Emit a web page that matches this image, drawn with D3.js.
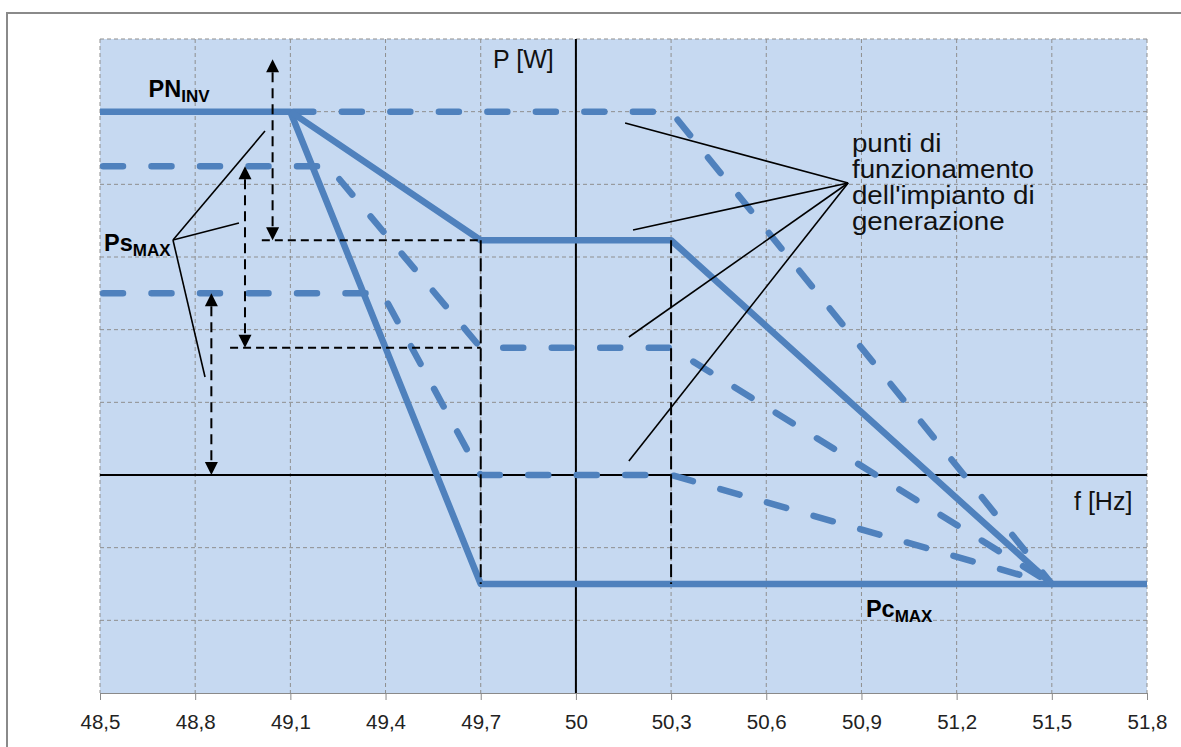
<!DOCTYPE html>
<html><head><meta charset="utf-8">
<script src="https://cdn.jsdelivr.net/npm/d3@7"></script>
<style>body{margin:0;background:#fff;} svg{display:block;}</style>
</head><body>
<svg id="chart" width="1181" height="747"></svg>
<script>
// ---- data ----
const xTicks = [48.5,48.8,49.1,49.4,49.7,50,50.3,50.6,50.9,51.2,51.5,51.8];
const yGridValues = [-3,-2,-1,0,1,2,3,4,5,6];
const solidSteep   = [[48.5,5],[49.1,5],[49.7,-1.5],[51.8,-1.5]];
const solidPlateau = [[49.1,5],[49.7,3.23],[50.3,3.23],[51.5,-1.5]];
const dashedTop    = [[49.1,5],[50.3,5],[51.5,-1.5]];
const dashedMid    = [[48.5,4.25],[49.22,4.25],[49.7,1.75],[50.3,1.75],[51.5,-1.5]];
const dashedLow    = [[48.5,2.5],[49.39,2.5],[49.7,0],[50.3,0],[51.5,-1.5]];
const guideVerticals   = [[49.7,3.23,-1.5],[50.3,3.23,-1.5]];
const guideHorizontals = [[49.01,49.7,3.23],[48.91,49.7,1.75]];
const arrows = [[49.044,5.72,3.23],[48.957,4.25,1.75],[48.851,2.5,0]];
const psLeaderOrigin = [48.73,3.234];
const psLeaderEnds = [[49.02,4.734],[48.938,3.468],[48.831,1.349]];
const opLeaderOrigin = [50.858,4.018];
const opLeaderEnds = [[50.155,4.844],[50.18,3.371],[50.167,1.899],[50.167,0.193]];
const opLabelLines = ["punti di","funzionamento","dell'impianto di","generazione"];
const opLabelPos = [50.87,4.45];
const pnLabelPos = [48.653,5.2];
const psLabelPos = [48.513,3.08];
const pcLabelPos = [50.914,-1.955];
const yAxisTitlePos = [49.739,5.6];
const xAxisTitlePos = [51.57,-0.48];

// ---- layout ----
const svg = d3.select("#chart");
const x = d3.scaleLinear().domain([48.5,51.8]).range([100,1147]);
const y = d3.scaleLinear().domain([-3,6]).range([693,39]);
const blue = "#4F81BD", grid = "#8f8f8f";

svg.append("rect").attr("x",7).attr("y",13).attr("width",1200).attr("height",800)
  .attr("fill","#fff").attr("stroke","#8a8a8a").attr("stroke-width",2);

svg.append("rect").attr("x",x(48.5)).attr("y",y(6)).attr("width",x(51.8)-x(48.5)).attr("height",y(-3)-y(6))
  .attr("fill","#C6D9F1");

svg.append("clipPath").attr("id","plotclip").append("rect")
  .attr("x",x(48.5)).attr("y",y(6)).attr("width",x(51.8)-x(48.5)).attr("height",y(-3)-y(6));

// gridlines
const g = svg.append("g");
g.selectAll(".vg").data(xTicks).join("line")
  .attr("x1",d=>x(d)).attr("x2",d=>x(d)).attr("y1",y(6)).attr("y2",y(-3))
  .attr("stroke",grid).attr("stroke-width",1).attr("stroke-dasharray","4 3");
g.selectAll(".hg").data(yGridValues.filter(v=>v!==-3 && v!==0)).join("line")
  .attr("x1",x(48.5)).attr("x2",x(51.8)).attr("y1",d=>y(d)).attr("y2",d=>y(d))
  .attr("stroke",grid).attr("stroke-width",1).attr("stroke-dasharray","4 3");

// bottom axis with tick labels
const xAxis = d3.axisBottom(x).tickValues(xTicks).tickSize(7).tickSizeOuter(0).tickPadding(14)
  .tickFormat(d => String(d).replace(".", ","));
const ax = svg.append("g").attr("transform",`translate(0,${y(-3)})`).call(xAxis);
ax.select(".domain").attr("stroke","#8a8a8a").attr("stroke-width",1.2);
ax.selectAll(".tick line").attr("stroke","#8a8a8a");
ax.selectAll(".tick text").attr("font-family","'Liberation Sans', Arial, sans-serif")
  .attr("font-size",20.5).attr("fill","#222");

// main axes (black)
svg.append("line").attr("x1",x(48.5)).attr("x2",x(51.8)).attr("y1",y(0)).attr("y2",y(0))
  .attr("stroke","#000").attr("stroke-width",2);
svg.append("line").attr("x1",x(50)).attr("x2",x(50)).attr("y1",y(6)).attr("y2",y(-3))
  .attr("stroke","#000").attr("stroke-width",2);

// blue lines
const line = d3.line().x(d=>x(d[0])).y(d=>y(d[1]));
const lg = svg.append("g").attr("clip-path","url(#plotclip)");
[dashedTop, dashedMid, dashedLow].forEach(s=>{
  lg.append("path").attr("d",line(s)).attr("fill","none").attr("stroke",blue)
    .attr("stroke-width",6.5).attr("stroke-linecap","round").attr("stroke-linejoin","round")
    .attr("stroke-dasharray","20 28.5").attr("stroke-dashoffset",-3);
});
[solidSteep, solidPlateau].forEach(s=>{
  lg.append("path").attr("d",line(s)).attr("fill","none").attr("stroke",blue)
    .attr("stroke-width",6.5).attr("stroke-linecap","butt").attr("stroke-linejoin","round");
});

// black dashed guides
const bg = svg.append("g");
guideVerticals.forEach(([fx,v1,v2])=>{
  bg.append("line").attr("x1",x(fx)).attr("x2",x(fx)).attr("y1",y(v1)).attr("y2",y(v2))
    .attr("stroke","#000").attr("stroke-width",2).attr("stroke-dasharray","13 5");
});
guideHorizontals.forEach(([f1,f2,v])=>{
  bg.append("line").attr("x1",x(f1)).attr("x2",x(f2)).attr("y1",y(v)).attr("y2",y(v))
    .attr("stroke","#000").attr("stroke-width",2).attr("stroke-dasharray","8 5");
});
arrows.forEach(([fx,vTop,vBot])=>{
  const cx = x(fx), yt = y(vTop), yb = y(vBot), ah = 13, aw = 6.5;
  bg.append("line").attr("x1",cx).attr("x2",cx).attr("y1",yt+ah).attr("y2",yb-ah)
    .attr("stroke","#000").attr("stroke-width",2).attr("stroke-dasharray","10 6");
  bg.append("path").attr("d",`M${cx},${yt}L${cx-aw},${yt+ah}L${cx+aw},${yt+ah}Z`).attr("fill","#000");
  bg.append("path").attr("d",`M${cx},${yb}L${cx-aw},${yb-ah}L${cx+aw},${yb-ah}Z`).attr("fill","#000");
});

// leader lines
[[psLeaderOrigin,psLeaderEnds],[opLeaderOrigin,opLeaderEnds]].forEach(([o,ends])=>{
  ends.forEach(e=>{
    bg.append("line").attr("x1",x(o[0])).attr("y1",y(o[1])).attr("x2",x(e[0])).attr("y2",y(e[1]))
      .attr("stroke","#000").attr("stroke-width",1.6);
  });
});

// texts
const ff = "'Liberation Sans', Arial, sans-serif";
function subLabel(pos, main, sub){
  const t = svg.append("text").attr("x",x(pos[0])).attr("y",y(pos[1]))
    .attr("font-family",ff).attr("font-weight","bold").attr("font-size",23.5).attr("fill","#000");
  t.append("tspan").text(main);
  t.append("tspan").attr("font-size",17).attr("dy",5).text(sub);
}
subLabel(pnLabelPos,"PN","INV");
subLabel(psLabelPos,"Ps","MAX");
subLabel(pcLabelPos,"Pc","MAX");

svg.append("text").attr("x",x(yAxisTitlePos[0])).attr("y",y(yAxisTitlePos[1]))
  .attr("font-family",ff).attr("font-size",25).attr("fill","#111").text("P [W]");
svg.append("text").attr("x",x(xAxisTitlePos[0])).attr("y",y(xAxisTitlePos[1]))
  .attr("font-family",ff).attr("font-size",25).attr("fill","#111").text("f [Hz]");

const op = svg.append("g").attr("transform",`translate(${x(opLabelPos[0])},${y(opLabelPos[1])}) scale(1.11,1)`);
opLabelLines.forEach((s,i)=>{
  op.append("text").attr("x",0).attr("y",i*26.2).attr("font-family",ff).attr("font-size",25)
    .attr("fill","#111").attr("xml:space","preserve").text(s);
});
</script>
</body></html>
